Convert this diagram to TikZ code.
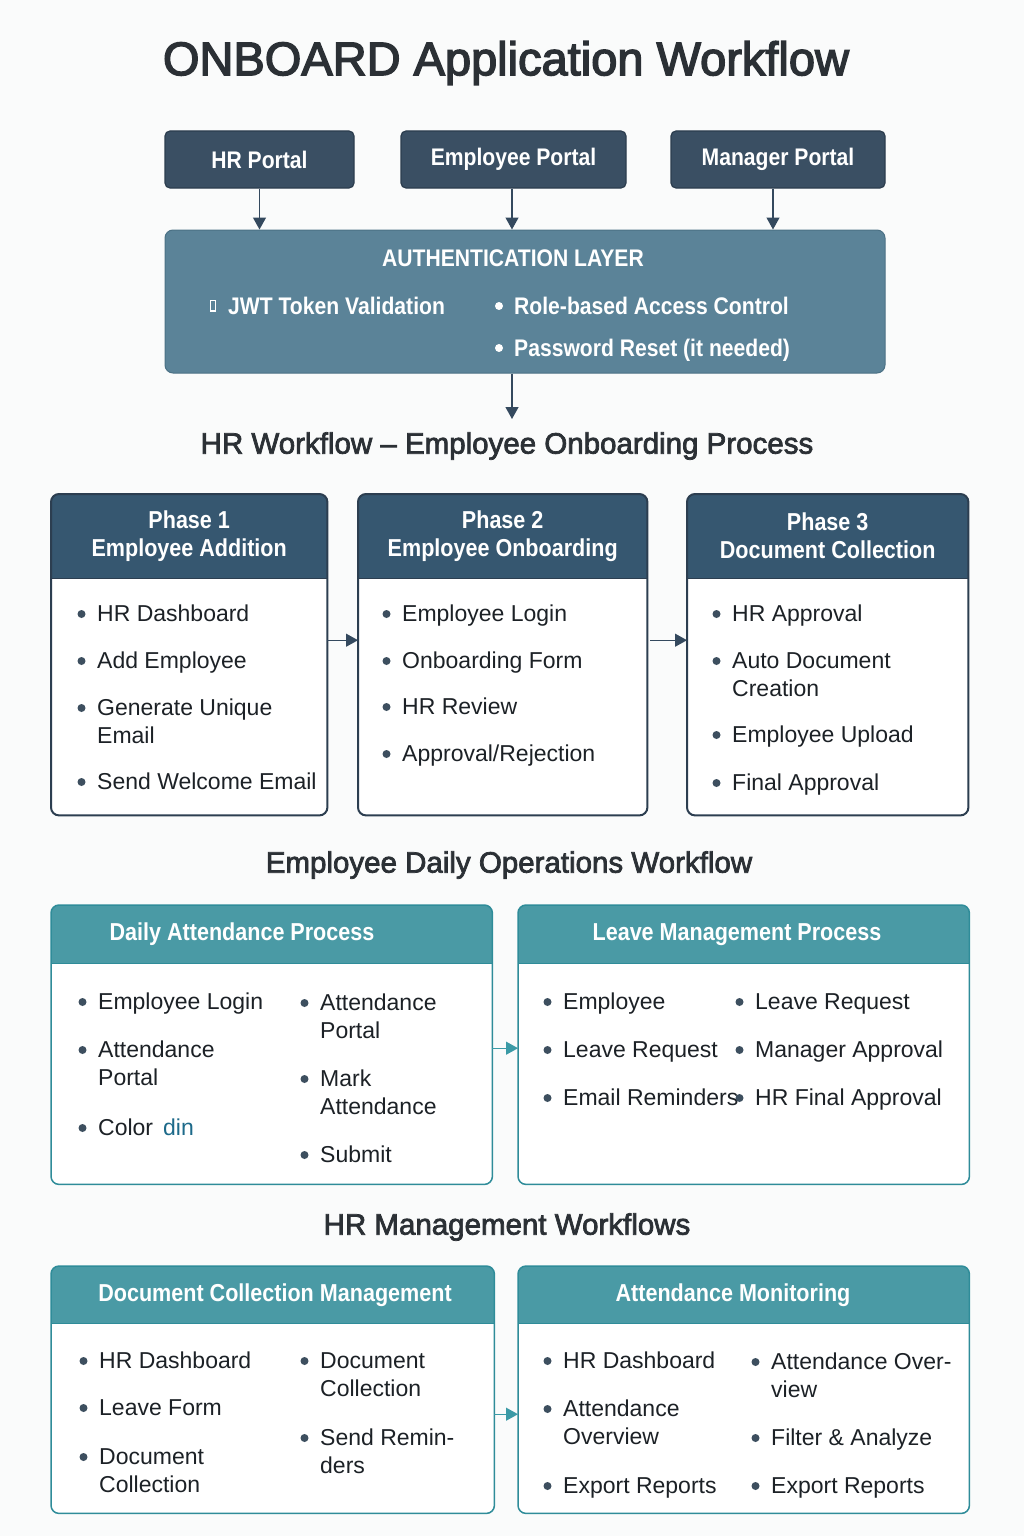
\documentclass[tikz,border=0pt]{standalone}
\usepackage{fontspec}
\setmainfont{Liberation Sans}
\newfontfamily\hdfont[FakeStretch=0.88]{Liberation Sans}
\newfontfamily\ttlfont[FakeBold=3]{Liberation Sans}
\newfontfamily\secfont[FakeBold=2.5]{Liberation Sans}
\usetikzlibrary{arrows.meta}

\definecolor{bgc}{HTML}{FAFBFB}
\definecolor{portalc}{HTML}{3A4F63}
\definecolor{portaledge}{HTML}{2C3D4E}
\definecolor{authc}{HTML}{5B8398}
\definecolor{authedge}{HTML}{4B7185}
\definecolor{phasec}{HTML}{365770}
\definecolor{phaseedge}{HTML}{2C3E50}
\definecolor{tealc}{HTML}{4A9AA5}
\definecolor{tealedge}{HTML}{2F8C99}
\definecolor{arrc}{HTML}{34495E}
\definecolor{tarrc}{HTML}{3B9AA6}
\definecolor{bodyc}{HTML}{1C2126}
\definecolor{headc}{HTML}{2B3035}
\definecolor{dotc}{HTML}{3D4F5F}
\definecolor{dinc}{HTML}{1D6A8A}

% card with a coloured header band: name, x1, y1, x2, y2, header height, header colour, edge colour, edge width
\newcommand\cardbox[9]{%
  \node[inner sep=0, anchor=north west, minimum width={(#4)-(#2)}, minimum height={(#5)-(#3)}] (#1) at (#2,#3) {};
  \fill[white, rounded corners=8pt] (#1.north west) rectangle (#1.south east);
  \begin{scope}
    \clip[rounded corners=8pt] (#1.north west) rectangle (#1.south east);
    \fill[#7] (#1.north west) rectangle ([yshift=-#6pt]#1.north east);
  \end{scope}
  \draw[#8, line width=0.8pt] ([yshift=-#6pt]#1.north west) -- ([yshift=-#6pt]#1.north east);
  \draw[#8, line width=#9, rounded corners=8pt] (#1.north west) rectangle (#1.south east);
}
% bulleted item: name, text x, baseline y, text
\newcommand\bul[4]{%
  \fill[dotc] (#2-15.5,#3-7) circle (4pt);
  \node[itm] (#1) at (#2,#3) {#4};
}
% continuation line of an item
\newcommand\cont[4]{\node[itm] (#1) at (#2,#3) {#4};}

\begin{document}
\begin{tikzpicture}[x=1pt,y=-1pt,
  itm/.style={anchor=base west, inner sep=0, text=bodyc, font=\fontsize{23}{28}\selectfont},
  hdtxt/.style={inner sep=0, text=white, font=\hdfont\bfseries\fontsize{24.5}{28}\selectfont},
  authtxt/.style={anchor=base west, inner sep=0, text=white, font=\hdfont\bfseries\fontsize{24}{28}\selectfont},
  section/.style={inner sep=0, text=headc, font=\secfont\fontsize{29.5}{34}\selectfont},
  portal/.style={fill=portalc, draw=portaledge, line width=1.2pt, rounded corners=5pt, inner sep=0,
    text=white, font=\hdfont\bfseries\fontsize{24}{28}\selectfont, minimum height=57pt},
  tipd/.tip={Triangle[width=13pt,length=12pt]},
  arr/.style={draw=arrc, line width=1.3pt, -tipd},
  tarr/.style={draw=tarrc, line width=1.2pt, -tipd},
]
% page
\fill[bgc] (0,0) rectangle (1024,1536);

% title
\node[inner sep=0, text=headc, font=\ttlfont\fontsize{47}{54}\selectfont] (title) at (506,63) {ONBOARD Application Workflow};

% portals
\node[portal, minimum width=189pt] (hrp) at (259.5,159.5) {HR Portal};
\node[portal, minimum width=225pt] (emp) at (513.5,159.5) {Employee Portal};
\node[portal, minimum width=214pt] (mgr) at (778,159.5) {Manager Portal};

% authentication layer
\node[fill=authc, draw=authedge, line width=1pt, rounded corners=8pt, inner sep=0,
  minimum width=720pt, minimum height=143pt] (auth) at (525,301.5) {};
\node[hdtxt, font=\hdfont\bfseries\fontsize{24}{28}\selectfont] (authttl) at (513,258) {AUTHENTICATION LAYER};
\draw[white, line width=1.6pt] (210.5,300.5) rectangle (215.5,311);
\node[authtxt] (jwt) at (228,314) {JWT Token Validation};
\fill[white] (499,306) circle (4pt);
\node[authtxt] (rbac) at (514,314) {Role-based Access Control};
\fill[white] (499,348) circle (4pt);
\node[authtxt] (pwr) at (514,356) {Password Reset (it needed)};

\draw[arr] (hrp.south) -- (hrp.south |- auth.north);
\draw[arr] ([xshift=-1.5pt]emp.south) -- ([xshift=-1.5pt]emp.south |- auth.north);
\draw[arr] ([xshift=-5pt]mgr.south) -- ([xshift=-5pt]mgr.south |- auth.north);

\coordinate (authend) at (512,419);
\draw[arr] ([xshift=-13pt]auth.south) -- (authend);

% HR onboarding phases
\node[section] (sec1) at (507,446) {HR Workflow – Employee Onboarding Process};

\cardbox{ph1}{51}{494}{327}{815}{84}{phasec}{phaseedge}{2pt}
\cardbox{ph2}{358}{494}{647}{815}{84}{phasec}{phaseedge}{2pt}
\cardbox{ph3}{687}{494}{968}{815}{84}{phasec}{phaseedge}{2pt}
\node[hdtxt, align=center] (ph1t) at ([yshift=-42pt]ph1.north) {Phase 1\\Employee Addition};
\node[hdtxt, align=center] (ph2t) at ([yshift=-42pt]ph2.north) {Phase 2\\Employee Onboarding};
\node[hdtxt, align=center] (ph3t) at ([yshift=-42pt]ph3.north) {Phase 3\\Document Collection};

\bul{a1}{97}{621}{HR Dashboard}
\bul{a2}{97}{668}{Add Employee}
\bul{a3}{97}{715}{Generate Unique}
\cont{a3b}{97}{743}{Email}
\bul{a4}{97}{789}{Send Welcome Email}

\bul{b1}{402}{621}{Employee Login}
\bul{b2}{402}{668}{Onboarding Form}
\bul{b3}{402}{714}{HR Review}
\bul{b4}{402}{761}{Approval/Rejection}

\bul{c1}{732}{621}{HR Approval}
\bul{c2}{732}{668}{Auto Document}
\cont{c2b}{732}{696}{Creation}
\bul{c3}{732}{742}{Employee Upload}
\bul{c4}{732}{790}{Final Approval}

\draw[arr] ([yshift=14.5pt]ph1.east) -- ([yshift=14.5pt]ph2.west);
\draw[arr] ([shift={(3pt,14.5pt)}]ph2.east) -- ([yshift=14.5pt]ph3.west);

% employee daily operations
\node[section] (sec2) at (509,865) {Employee Daily Operations Workflow};

\cardbox{da}{51}{905}{492}{1184}{58}{tealc}{tealedge}{1.5pt}
\cardbox{lm}{518}{905}{969}{1184}{58}{tealc}{tealedge}{1.5pt}
\node[hdtxt] (dat) at (242,934) {Daily Attendance Process};
\node[hdtxt] (lmt) at (737,935) {Leave Management Process};

\bul{d1}{98}{1009}{Employee Login}
\bul{d2}{98}{1057}{Attendance}
\cont{d2b}{98}{1085}{Portal}
\bul{d3}{98}{1135}{Color\hspace{10pt}\textcolor{dinc}{din}}
\bul{d4}{320}{1010}{Attendance}
\cont{d4b}{320}{1038}{Portal}
\bul{d5}{320}{1086}{Mark}
\cont{d5b}{320}{1114}{Attendance}
\bul{d6}{320}{1162}{Submit}

\bul{e1}{563}{1009}{Employee}
\bul{e2}{563}{1057}{Leave Request}
\bul{e3}{563}{1105}{Email Reminders}
\bul{e4}{755}{1009}{Leave Request}
\bul{e5}{755}{1057}{Manager Approval}
\bul{e6}{755}{1105}{HR Final Approval}

\draw[tarr] ([yshift=-3.5pt]da.east) -- ([yshift=-3.5pt]lm.west);

% HR management
\node[section] (sec3) at (507,1227) {HR Management Workflows};

\cardbox{dcm}{51}{1266}{494}{1513}{57}{tealc}{tealedge}{1.5pt}
\cardbox{am}{518}{1266}{969}{1513}{57}{tealc}{tealedge}{1.5pt}
\node[hdtxt] (dcmt) at (275,1295) {Document Collection Management};
\node[hdtxt] (amt) at (733,1295) {Attendance Monitoring};

\bul{f1}{99}{1368}{HR Dashboard}
\bul{f2}{99}{1415}{Leave Form}
\bul{f3}{99}{1464}{Document}
\cont{f3b}{99}{1492}{Collection}
\bul{f4}{320}{1368}{Document}
\cont{f4b}{320}{1396}{Collection}
\bul{f5}{320}{1445}{Send Remin-}
\cont{f5b}{320}{1473}{ders}

\bul{g1}{563}{1368}{HR Dashboard}
\bul{g2}{563}{1416}{Attendance}
\cont{g2b}{563}{1444}{Overview}
\bul{g3}{563}{1493}{Export Reports}
\bul{g4}{771}{1369}{Attendance Over-}
\cont{g4b}{771}{1397}{view}
\bul{g5}{771}{1445}{Filter \& Analyze}
\bul{g6}{771}{1493}{Export Reports}

\draw[tarr] ([yshift=-24.5pt]dcm.east) -- ([yshift=-24.5pt]am.west);
\end{tikzpicture}
\end{document}
